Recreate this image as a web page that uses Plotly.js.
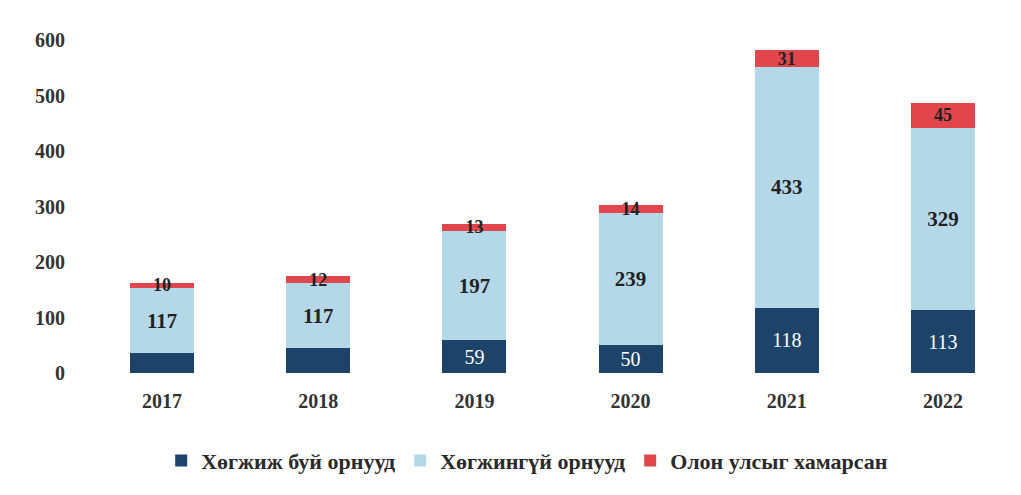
<!DOCTYPE html>
<html><head><meta charset="utf-8">
<script src="https://cdn.plot.ly/plotly-3.0.1.min.js"></script>
<style>body{margin:0;background:#fff}#c{width:1021px;height:495px}</style>
</head><body><div id="c"></div>
<script>
const years = ['2017','2018','2019','2020','2021','2022'];
const developing = [36, 45, 59, 50, 118, 113];
const developingLabels = ['', '', '59', '50', '118', '113'];
const developed = [117, 117, 197, 239, 433, 329];
const international = [10, 12, 13, 14, 31, 45];
const names = ['Хөгжиж буй орнууд', 'Хөгжингүй орнууд', 'Олон улсыг хамарсан'];
const yTicks = [0, 100, 200, 300, 400, 500, 600];

const serif = 'Liberation Serif, Times New Roman, serif';
const common = {type:'bar', textposition:'inside', insidetextanchor:'middle', constraintext:'none', textangle:0, hoverinfo:'skip', width:0.41};
const traces = [
  Object.assign({}, common, {x: years, y: developing, name: names[0], text: developingLabels,
    marker:{color:'#1d4468'}, textfont:{family:serif, size:20, color:'#ffffff'}}),
  Object.assign({}, common, {x: years, y: developed, name: names[1], text: developed.map(String),
    marker:{color:'#b5d8e9'}, textfont:{family:serif, size:21, color:'#222222', weight:'bold'}}),
  Object.assign({}, common, {x: years, y: international, name: names[2], text: international.map(String),
    marker:{color:'#e0464b'}, textfont:{family:serif, size:18, color:'#222222', weight:'bold'}})
];
const layout = {
  width:1021, height:495, barmode:'stack',
  margin:{l:84, r:0, t:40, b:122},
  paper_bgcolor:'#fff', plot_bgcolor:'#fff',
  font:{family:serif, color:'#2a2a2a'},
  xaxis:{type:'category', tickfont:{family:serif, size:20, color:'#333333', weight:'bold'}, ticklabelstandoff:14, showline:false, ticks:''},
  yaxis:{range:[0,600], tickvals:yTicks, ticktext:yTicks.map(String), showgrid:false, zeroline:false,
    tickfont:{family:serif, size:20, color:'#333333', weight:'bold'}, ticklabelstandoff:18},
  showlegend:true,
  legend:{orientation:'h', x:0.473, xanchor:'center', y:-0.2, yanchor:'top', font:{family:serif, size:22, color:'#2a2a2a', weight:'bold'}, itemwidth:30, traceorder:'normal'}
};
Plotly.newPlot('c', traces, layout, {staticPlot:true});
</script></body></html>
